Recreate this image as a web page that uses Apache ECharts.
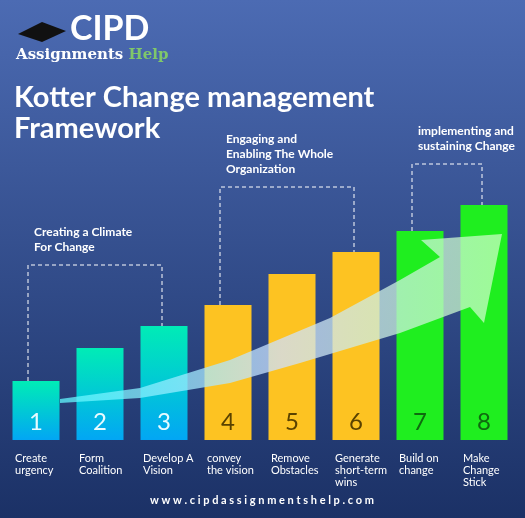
<!DOCTYPE html>
<html>
<head>
<meta charset="utf-8">
<script src="https://cdn.jsdelivr.net/npm/echarts@6/dist/echarts.min.js"></script>
<style>html,body{margin:0;padding:0}#main{width:525px;height:518px}</style>
</head>
<body>
<div id="main"></div>
<script>
// steps of the framework
const steps = ['1', '2', '3', '4', '5', '6', '7', '8']
const stepNames = ['Create\nurgency', 'Form\nCoalition', 'Develop A\nVision', 'convey\nthe vision',
  'Remove\nObstacles', 'Generate\nshort-term\nwins', 'Build on\nchange', 'Make\nChange\nStick']
const heights = [59, 92, 114, 135, 166, 188, 209, 235]
const phases = [
  { text: 'Creating a Climate\nFor Change', from: 0, to: 2 },
  { text: 'Engaging and\nEnabling The Whole\nOrganization', from: 3, to: 5 },
  { text: 'implementing and\nsustaining Change', from: 6, to: 7 }
]

const font = 'Lato, "Open Sans", sans-serif'
const teal = { type: 'linear', x: 0, y: 0, x2: 0, y2: 1, colorStops: [{ offset: 0, color: '#00ecb6' }, { offset: 1, color: '#02a6f4' }] }
const barColors = [teal, teal, teal, '#fdc322', '#fdc322', '#fdc322', '#1fee1f', '#1fee1f']
const numColors = ['#e8fbff', '#e8fbff', '#e8fbff', '#5a4200', '#5a4200', '#5a4200', '#0f6a0f', '#0f6a0f']

const myChart = echarts.init(document.getElementById('main'))
const option = {
  backgroundColor: { type: 'linear', x: 0, y: 0, x2: 0, y2: 1, colorStops: [{ offset: 0, color: '#4c6bb3' }, { offset: 1, color: '#1b3166' }] },
  grid: { left: 4, right: 9, top: 140, bottom: 78 },
  xAxis: { type: 'category', data: steps, axisLine: { show: false }, axisTick: { show: false }, axisLabel: { show: false } },
  yAxis: { type: 'value', min: 0, max: 300, show: false },
  series: [{
    type: 'bar',
    barWidth: 47,
    data: heights.map((v, i) => ({ value: v, itemStyle: { color: barColors[i] }, label: { color: numColors[i] } })),
    label: {
      show: true, position: 'insideBottom', distance: 6,
      formatter: p => steps[p.dataIndex], fontSize: 24, fontFamily: font
    }
  }]
}
myChart.setOption(option)

// decorations placed from the chart's own scale
const px = (i, v) => myChart.convertToPixel({ seriesIndex: 0 }, [i, v])
const g = []
g.push({ type: 'text', x: 70, y: 12, style: { text: 'CIPD', fill: '#fff', font: 'bold 34px ' + font } })
g.push({ type: 'polygon', shape: { points: [[18, 34], [42, 22], [66, 31], [42, 42]] }, style: { fill: '#111' } })
g.push({ type: 'text', x: 16, y: 48, style: { rich: { a: { fill: '#fff', font: 'bold 15px "DejaVu Serif", serif' }, b: { fill: '#7fc76a', font: 'bold 15px "DejaVu Serif", serif' } }, text: '{a|Assignments }{b|Help}' } })
g.push({ type: 'text', x: 14, y: 82, style: { text: 'Kotter Change management\nFramework', fill: '#fff', font: 'bold 29px ' + font, lineHeight: 31 } })
g.push({ type: 'text', x: 262, y: 495, style: { text: 'w w w . c i p d a s s i g n m e n t s h e l p . c o m', fill: '#fff', font: 'bold 11px ' + font, textAlign: 'center' } })

stepNames.forEach((n, i) => {
  const p = px(i, 0)
  g.push({ type: 'text', x: p[0] - 21, y: p[1] + 12, style: { text: n, fill: '#fff', font: '11px ' + font, lineHeight: 12 } })
})

const bracketTops = [265, 187, 164]
phases.forEach((ph, k) => {
  const a = px(ph.from, heights[ph.from]), b = px(ph.to, heights[ph.to])
  const x1 = a[0] - 8, x2 = b[0] - 2, t = bracketTops[k]
  g.push({ type: 'polyline', shape: { points: [[x1, a[1]], [x1, t], [x2, t], [x2, b[1]]] }, style: { stroke: '#fff', lineWidth: 1, lineDash: [4, 3], fill: null } })
  const lines = ph.text.split('\n').length
  g.push({ type: 'text', x: x1 + 6, y: t - 10 - lines * 15, style: { text: ph.text, fill: '#fff', font: 'bold 12px ' + font, lineHeight: 15 } })
})

g.push({
  type: 'polygon', z: 100,
  shape: { points: [[60, 399], [140, 388], [230, 360], [330, 318], [400, 280], [440, 257], [421, 240], [502, 234], [484, 323], [470, 307], [400, 333], [300, 363], [230, 383], [140, 398], [60, 403]] },
  style: { opacity: 0.75, fill: { type: 'linear', x: 0, y: 0, x2: 1, y2: 0, colorStops: [{ offset: 0, color: '#5ff8ff' }, { offset: 0.5, color: '#cfe0ff' }, { offset: 1, color: '#c8ffc0' }] } }
})
myChart.setOption({ graphic: g })
</script>
</body>
</html>
